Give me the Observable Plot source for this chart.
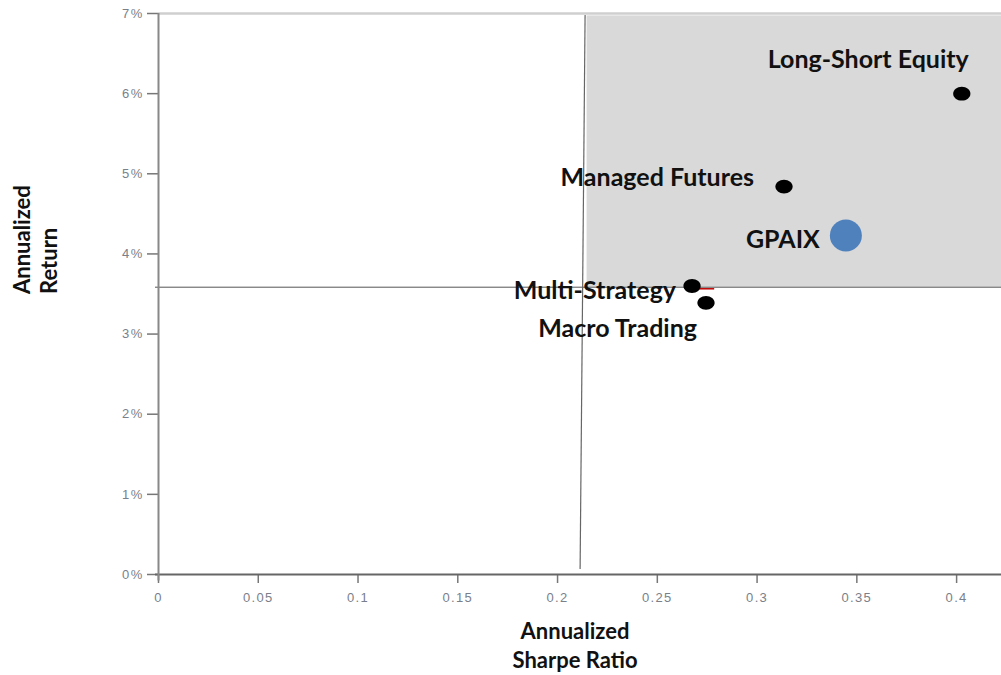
<!DOCTYPE html>
<html>
<head>
<meta charset="utf-8">
<script src="https://cdn.jsdelivr.net/npm/d3@7"></script>
<script src="https://cdn.jsdelivr.net/npm/@observablehq/plot@0.6"></script>
<style>
  html, body { margin: 0; padding: 0; background: #fff; }
  #chart { width: 1001px; height: 675px; }
  .ticklbl text { letter-spacing: 1.3px; }
</style>
</head>
<body>
<div id="chart"></div>
<script>
// ---- data ----
const names   = ["Long-Short Equity", "Managed Futures", "GPAIX", "Multi-Strategy", "Macro Trading"];
const sharpe  = [0.4026, 0.3135, 0.3445, 0.2674, 0.2744];
const returns = [6.00, 4.84, 4.23, 3.60, 3.39];   // percent
const fund    = "GPAIX";

const xTicks = [0, 0.05, 0.1, 0.15, 0.2, 0.25, 0.3, 0.35, 0.4];
const xTickLabels = ["0", "0.05", "0.1", "0.15", "0.2", "0.25", "0.3", "0.35", "0.4"];
const yTicks = [0, 1, 2, 3, 4, 5, 6, 7];
const yTickLabels = ["0%", "1%", "2%", "3%", "4%", "5%", "6%", "7%"];

const xDomain = [0, 0.4225];
const yDomain = [0, 7];

// quadrant thresholds (reference lines)
const thresholdReturn = 3.585;
const thresholdSharpeTop = 0.2138;
const thresholdSharpeBottom = 0.2113;
const shadedRegion = [{x1: 0.2148, x2: 0.4225, y1: 3.585, y2: 6.97}];

const yTitle = "Annualized\nReturn";
const xTitle = "Annualized\nSharpe Ratio";

const points = names.map((n, i) => ({name: n, x: sharpe[i], y: returns[i]}));

// ellipse symbol (slightly wide black markers)
const ellipse = {
  draw(ctx, size) {
    const r = Math.sqrt(size / Math.PI);
    const rx = r * 1.12, ry = r * 0.9, k = 0.5523;
    ctx.moveTo(rx, 0);
    ctx.bezierCurveTo(rx, ry * k, rx * k, ry, 0, ry);
    ctx.bezierCurveTo(-rx * k, ry, -rx, ry * k, -rx, 0);
    ctx.bezierCurveTo(-rx, -ry * k, -rx * k, -ry, 0, -ry);
    ctx.bezierCurveTo(rx * k, -ry, rx, -ry * k, rx, 0);
    ctx.closePath();
  }
};

const labelFont = "Lato, 'Open Sans', sans-serif";
function label(name, dx, dy) {
  return Plot.text(points.filter(d => d.name === name), {
    x: "x", y: "y", text: "name", textAnchor: "end", dx, dy,
    fontSize: 25, fontWeight: "bold", fill: "#111", fontFamily: labelFont
  });
}

const chart = Plot.plot({
  width: 1001,
  height: 675,
  marginLeft: 158,
  marginRight: 0,
  marginTop: 13,
  marginBottom: 101,
  style: {fontFamily: "'Liberation Sans', Arial, sans-serif", fontSize: "13px", background: "#fff", color: "#888"},
  x: {domain: xDomain},
  y: {domain: yDomain},
  marks: [
    Plot.rect(shadedRegion, {x1: "x1", x2: "x2", y1: "y1", y2: "y2", fill: "#d9d9d9"}),
    Plot.ruleY([yDomain[1]], {stroke: "#cfcfcf", strokeWidth: 2.5}),
    Plot.ruleY([thresholdReturn], {x1: -0.0015, x2: xDomain[1], stroke: "#555", strokeWidth: 1}),
    Plot.link([{x1: thresholdSharpeTop, y1: 6.98, x2: thresholdSharpeBottom, y2: 0.07}],
      {x1: "x1", y1: "y1", x2: "x2", y2: "y2", stroke: "#666", strokeWidth: 1.2}),
    Plot.link([{x1: 0.2705, x2: 0.2785, y: 3.565}], {x1: "x1", x2: "x2", y1: "y", y2: "y", stroke: "#c00000", strokeWidth: 1.5}),
    Plot.axisX({ticks: xTicks, tickFormat: d => xTickLabels[xTicks.indexOf(d)], tickSize: 9, tickPadding: 9, stroke: "#777", strokeWidth: 1.5, fill: "#7a7f8a", label: null, className: "ticklbl"}),
    Plot.axisY({ticks: yTicks, tickFormat: d => yTickLabels[yTicks.indexOf(d)], tickSize: 11, tickPadding: 4, stroke: "#777", strokeWidth: 1.5, fill: "#7a7f8a", label: null, className: "ticklbl"}),
    Plot.ruleY([0], {x1: -0.0015, x2: xDomain[1], stroke: "#666", strokeWidth: 2}),
    Plot.ruleX([0], {y1: 7, y2: -0.08, stroke: "#888", strokeWidth: 2}),
    Plot.dot(points.filter(d => d.name !== fund), {x: "x", y: "y", r: 7.7, symbol: ellipse, fill: "#000", stroke: "none"}),
    Plot.dot(points.filter(d => d.name === fund), {x: "x", y: "y", r: 16, fill: "#4f81bd", stroke: "none"}),
    label("Long-Short Equity", 7, -34),
    label("Managed Futures", -30, -9),
    label("GPAIX", -26, 5),
    label("Multi-Strategy", -16, 5),
    label("Macro Trading", -9, 26),
    Plot.text([yTitle], {frameAnchor: "left", dx: -124, rotate: -90, text: d => d, fontSize: 22, fontWeight: "bold", fill: "#111", fontFamily: labelFont, lineHeight: 1.25, lineAnchor: "middle"}),
    Plot.text([xTitle], {frameAnchor: "bottom", dx: -5, dy: 70, text: d => d, fontSize: 22, fontWeight: "bold", fill: "#111", fontFamily: labelFont, lineHeight: 1.3, lineAnchor: "middle"})
  ]
});
document.getElementById("chart").appendChild(chart);
</script>
</body>
</html>
